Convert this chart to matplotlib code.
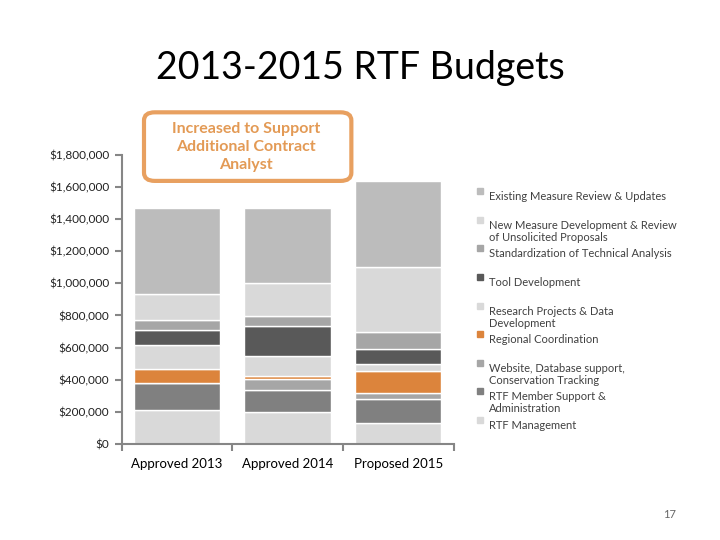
import numpy as np
import matplotlib.pyplot as plt
from matplotlib.patches import FancyBboxPatch, Rectangle

plt.rcParams['font.family'] = ['Lato', 'DejaVu Sans']

# data (dollars), bottom to top of each stack
years = ['Approved 2013', 'Approved 2014', 'Proposed 2015']
rtf_management = [212000, 197000, 129000]
member_support = [166000, 141000, 149000]
website_db = [0, 67000, 38000]
regional_coord = [87000, 15000, 139000]
research = [151000, 128000, 41000]
tool_dev = [92000, 185000, 94000]
standardization = [66000, 62000, 106000]
new_measure = [158000, 206000, 406000]
existing_measure = [539000, 470000, 536000]

series = [rtf_management, member_support, website_db, regional_coord, research,
          tool_dev, standardization, new_measure, existing_measure]
names = ['RTF Management', 'RTF Member Support &\nAdministration',
         'Website, Database support,\nConservation Tracking', 'Regional Coordination',
         'Research Projects & Data\nDevelopment', 'Tool Development',
         'Standardization of Technical Analysis',
         'New Measure Development & Review\nof Unsolicited Proposals',
         'Existing Measure Review & Updates']
colors = ['#d9d9d9', '#808080', '#a6a6a6', '#dc843c', '#d9d9d9',
          '#595959', '#a6a6a6', '#d9d9d9', '#bcbcbc']

fig = plt.figure(figsize=(7.2, 5.4), dpi=100)
ax = fig.add_axes([0.169, 0.178, 0.461, 0.535])

x = np.arange(len(years))
bottom = np.zeros(len(years))
for vals, c in zip(series, colors):
    ax.bar(x, vals, 0.78, bottom=bottom, color=c, edgecolor='white', linewidth=1)
    bottom += np.array(vals)

ax.set_xlim(-0.5, 2.5)
ax.set_ylim(0, 1800000)
ax.set_yticks(np.arange(0, 1800001, 200000))
ax.set_yticklabels(['${:,.0f}'.format(v) for v in np.arange(0, 1800001, 200000)],
                   fontsize=8.5, color='#202020')
ax.set_xticks(x)
ax.set_xticklabels(years, fontsize=9.5)
ax.set_xticks([-0.5, 0.5, 1.5, 2.5], minor=True)
ax.tick_params(axis='x', which='major', length=0, pad=10)
ax.tick_params(axis='x', which='minor', length=5, color='#868686', width=1.5)
ax.tick_params(axis='y', length=5, color='#868686', width=1.5, pad=4)
for s in ['top', 'right']:
    ax.spines[s].set_visible(False)
for s in ['left', 'bottom']:
    ax.spines[s].set_color('#868686')
    ax.spines[s].set_linewidth(1.5)

fig.text(0.5, 0.875, '2013-2015 RTF Budgets', ha='center', va='center', fontsize=27)

# callout box
box = FancyBboxPatch((0.200, 0.665), 0.288, 0.127, boxstyle='round,pad=0,rounding_size=0.015',
                     transform=fig.transFigure, facecolor='white', edgecolor='#e8a060',
                     linewidth=3, zorder=5)
fig.patches.append(box)
fig.text(0.342, 0.728, 'Increased to Support\nAdditional Contract\nAnalyst', ha='center',
         va='center', fontsize=11.5, fontweight='bold', color='#e39a55', linespacing=1.35, zorder=6)

# legend, top entry first
legend_y = [191, 227, 248, 277, 313, 334, 370, 398, 420]
for name, c, yy in zip(names[::-1], colors[::-1], legend_y):
    fy = 1 - yy / 540
    nlines = name.count('\n') + 1
    top = fy + (nlines - 1) * 0.0135
    fig.patches.append(Rectangle((477 / 720, top - 0.006), 6 / 720, 6 / 540,
                                 transform=fig.transFigure, color=c))
    fig.text(489 / 720, top, name, ha='left', va='top', fontsize=8, color='#404040',
             linespacing=1.1, transform=fig.transFigure)

fig.text(0.93, 0.048, '17', ha='center', va='center', fontsize=8, color='#666666')

fig.savefig('out.png', dpi=100)
